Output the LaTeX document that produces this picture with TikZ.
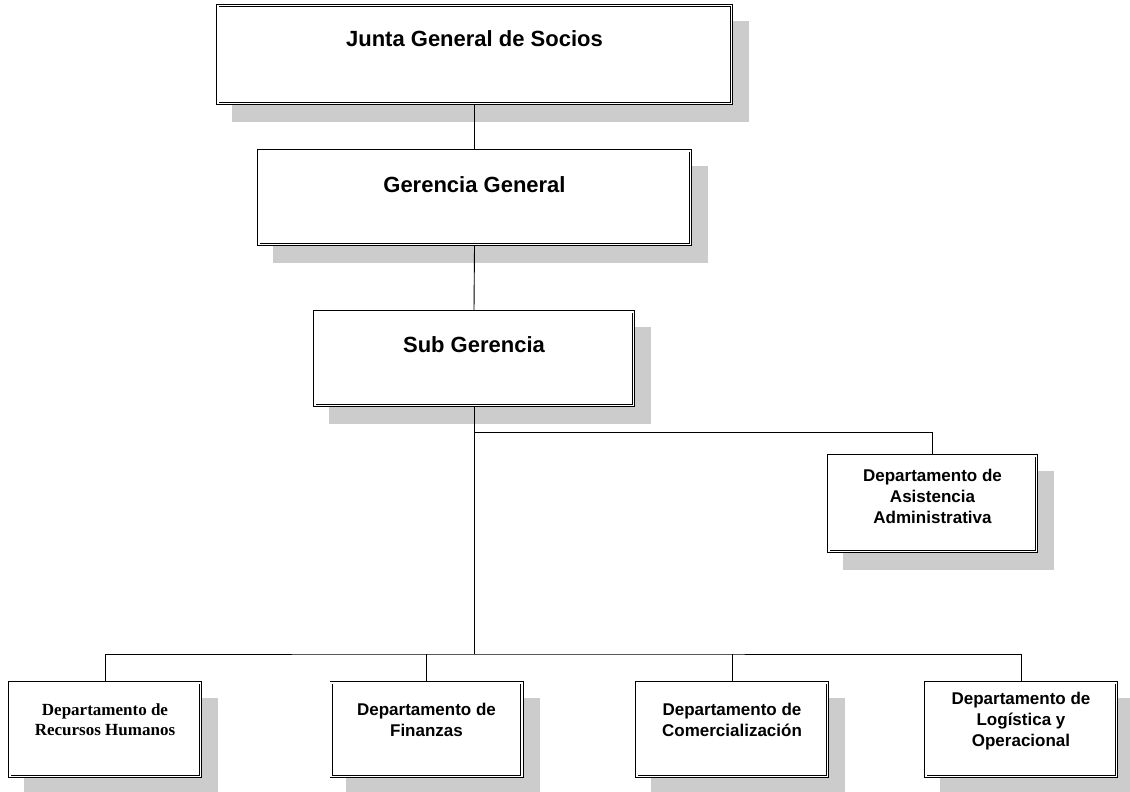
\documentclass[tikz,border=0pt]{standalone}
\usepackage{fontspec}
\setmainfont{Liberation Sans}
\newfontfamily\timesb{Liberation Serif}
\usetikzlibrary{backgrounds}
\tikzset{
  orgbox/.style={draw=black, double=white, double distance=1.6pt, line width=0.9pt,
    fill=white, inner sep=0pt, outer sep=1.7pt},
  bigbox/.style={orgbox, minimum height=94pt},
  smallbox/.style={orgbox, minimum width=190.6pt, minimum height=93.6pt},
  lblbig/.style={anchor=north, inner sep=0pt, font=\bfseries\fontsize{22}{26}\selectfont},
  lblsmall/.style={anchor=north, inner sep=0pt, align=center, font=\bfseries\fontsize{17}{21}\selectfont},
  lbltimes/.style={anchor=north, inner sep=0pt, align=center, font=\timesb\bfseries\fontsize{17}{19.5}\selectfont},
  conn/.style={draw=black, line width=0.9pt},
  shadowfill/.style={fill=black!20}
}
\begin{document}
\begin{tikzpicture}[x=1pt, y=-1pt]
\useasboundingbox (0,0) rectangle (1130,792);

\node[bigbox, minimum width=513.6pt, minimum height=97.6pt,
  label={[lblbig, yshift=-26pt]north:Junta General de Socios}] (jgs) at (474.5,54.5) {};
\node[bigbox, minimum width=431.6pt, minimum height=93.6pt,
  label={[lblbig, yshift=-27pt]north:Gerencia General}] (gg) at (474.5,197.5) {};
\node[bigbox, minimum width=318.6pt, minimum height=93.6pt,
  label={[lblbig, yshift=-26pt]north:Sub Gerencia}] (sg) at (474,358.5) {};
\node[orgbox, minimum width=207.6pt, minimum height=95.6pt,
  label={[lblsmall, yshift=-15pt]north:{Departamento de\\Asistencia\\Administrativa}}] (daa) at (932.5,503.5) {};

\node[smallbox, label={[lbltimes, yshift=-22.5pt]north:{Departamento de\\Recursos Humanos}}] (rh) at (105,729.5) {};
\node[smallbox, label={[lblsmall, yshift=-22pt]north:{Departamento de\\Finanzas}}] (fin) at (426.5,729.5) {};
\node[smallbox, label={[lblsmall, yshift=-22pt]north:{Departamento de\\Comercialización}}] (com) at (732,729.5) {};
\node[smallbox, label={[lblsmall, yshift=-11pt]north:{Departamento de\\Logística y\\Operacional}}] (log) at (1021,729.5) {};

\begin{scope}[on background layer]
  \foreach \n in {jgs,gg,sg,daa,rh,fin,com,log}
    \fill[shadowfill] ([shift={(16,17)}]\n.south west) rectangle ([shift={(16,17)}]\n.north east);
\end{scope}

\coordinate (hubA) at (474,432);
\coordinate (hubB) at (474,654);

\draw[conn] (jgs.south) -- (gg.north);
\draw[conn] (gg.south) -- (sg.north);
\draw[conn] (sg.south) -- (hubB);
\draw[conn] (hubA) -| (daa.north);
\draw[conn] (rh.north) |- (hubB) -| (log.north);
\draw[conn] (fin.north) -- (fin.north |- hubB);
\draw[conn] (com.north) -- (com.north |- hubB);
\end{tikzpicture}
\end{document}
